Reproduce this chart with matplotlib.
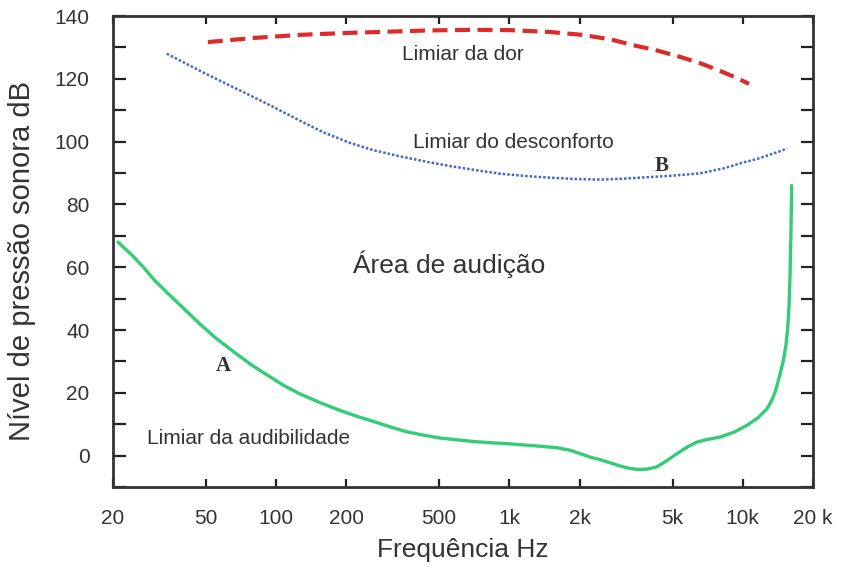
import matplotlib
matplotlib.use("Agg")
import matplotlib.pyplot as plt
from matplotlib.ticker import FixedLocator, NullLocator

plt.rcParams['font.family'] = ['Liberation Sans', 'DejaVu Sans']

# Threshold of hearing (Limiar da audibilidade)
green_f = [21, 24, 27, 30, 34, 40, 47, 55, 66, 78, 91, 108, 127, 155, 188, 220, 261,
           310, 362, 430, 504, 600, 700, 830, 975, 1150, 1350, 1600, 1820, 2000,
           2220, 2450, 2700, 2980, 3270, 3570, 3900, 4280, 4750, 5220, 5800, 6360,
           7100, 8000, 9200, 10400, 11600, 12700, 13300, 13800, 14400, 14900, 15300,
           15600, 15800, 15950, 16100, 16200]
green_db = [68, 64, 60, 56, 52, 47, 42, 37.5, 33, 29, 25.8, 22.3, 19.6, 16.8, 14.4,
            12.6, 10.9, 9.1, 7.6, 6.5, 5.6, 5.0, 4.5, 4.1, 3.8, 3.4, 3.0, 2.5, 1.7,
            0.7, -0.5, -1.3, -2.3, -3.3, -4.1, -4.4, -4.3, -3.6, -1.5, 0.6, 2.8, 4.3,
            5.2, 5.9, 7.5, 9.6, 12.0, 14.9, 17.5, 20.5, 25.5, 30, 35, 41, 48, 58, 72, 86]

# Discomfort threshold (Limiar do desconforto)
blue_f = [34, 40, 47, 56, 66, 78, 90, 108, 127, 160, 207, 260, 340, 440, 557, 720,
          906, 1150, 1494, 1900, 2443, 3100, 3980, 5100, 6560, 8200, 10000, 11800,
          13000, 14300, 15500]
blue_db = [128, 125.3, 122.6, 119.8, 117.2, 114.6, 112.3, 109.3, 106.6, 102.9, 99.6,
           97.3, 95.3, 93.6, 92.2, 90.9, 89.8, 89.1, 88.5, 88.1, 87.9, 88.2, 88.7,
           89.2, 89.9, 91.4, 93.3, 94.7, 95.8, 96.8, 97.8]

# Pain threshold (Limiar da dor)
red_f = [51, 80, 127, 200, 300, 450, 700, 1000, 1500, 2040, 2700, 3350, 4200, 5270,
         6500, 7830, 9200, 10640]
red_db = [131.7, 133, 134, 134.6, 135, 135.4, 135.6, 135.5, 134.9, 134, 132.6, 130.8,
          129.2, 127.2, 125.1, 122.8, 120.6, 118.4]

xticks = [20, 50, 100, 200, 500, 1000, 2000, 5000, 10000, 20000]
xticklabels = ['20', '50', '100', '200', '500', '1k', '2k', '5k', '10k', '20 k']
yticks = [0, 20, 40, 60, 80, 100, 120, 140]

fig = plt.figure(figsize=(8.45, 5.68), dpi=100)
ax = fig.add_axes([113/845, 1-487/568, 700/845, 471/568])

ax.plot(green_f, green_db, color='#33cc77', lw=2.4, solid_capstyle='round',
        solid_joinstyle='round')
ax.plot(blue_f, blue_db, color='#4466cc', lw=1.8, linestyle=(0, (1, 0.8)))
ax.plot(red_f, red_db, color='#dd2a2a', lw=3.0, linestyle=(0, (3.6, 1.8)))

ax.set_xscale('log')
ax.set_xlim(20, 20000)
ax.set_ylim(-10, 140)
ax.xaxis.set_major_locator(FixedLocator(xticks))
ax.xaxis.set_minor_locator(NullLocator())
ax.set_xticklabels(xticklabels)
ax.yaxis.set_major_locator(FixedLocator(yticks))
ax.yaxis.set_minor_locator(FixedLocator([-10 + 20*i for i in range(8)]))

ax.tick_params(axis='both', which='both', direction='in', top=True, right=True,
               colors='#222222', labelcolor='#333333', width=1.6)
ax.tick_params(axis='x', which='major', length=6, pad=16, labelsize=15)
ax.tick_params(axis='y', which='both', length=9, pad=17, labelsize=15)

for s in ax.spines.values():
    s.set_linewidth(2)
    s.set_color('#333333')

ax.set_xlabel('Frequência Hz', fontsize=19, color='#333333', labelpad=7)
fig.text(22/845, 1-261/568, 'Nível de pressão sonora dB', rotation=90, fontsize=21,
         color='#333333', ha='center', va='center')

tc = '#333333'
ax.text(632, 127.6, 'Limiar da dor', fontsize=15, color=tc, ha='center', va='center')
ax.text(1035, 99.7, 'Limiar do desconforto', fontsize=15, color=tc, ha='center', va='center')
ax.text(551, 61, 'Área de audição', fontsize=19, color=tc, ha='center', va='center')
ax.text(76.5, 5.4, 'Limiar da audibilidade', fontsize=15, color=tc, ha='center', va='center')
ax.text(59.3, 28.6, 'A', fontsize=15, color=tc, ha='center', va='center',
        family='Liberation Serif', fontweight='bold')
ax.text(4490, 92.1, 'B', fontsize=15, color=tc, ha='center', va='center',
        family='Liberation Serif', fontweight='bold')

fig.savefig('out.png', dpi=100)
